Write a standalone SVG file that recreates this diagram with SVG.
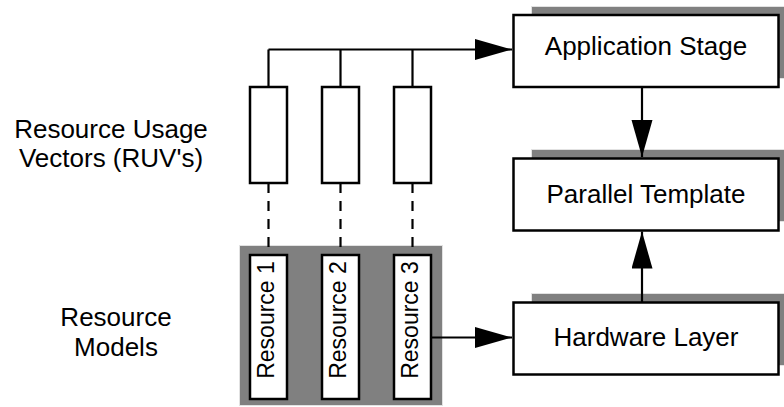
<svg xmlns="http://www.w3.org/2000/svg" width="784" height="407" viewBox="0 0 784 407">
<style>
text{font-family:"Liberation Sans",Arial,sans-serif;fill:#000}
.lbl{font-size:26px;text-anchor:middle}
.res{font-size:23px;text-anchor:middle}
.box{fill:#fff;stroke:#000;stroke-width:2.5}
.shadow{fill:#808080;stroke:#e2e2e2;stroke-width:1}
.ln{fill:none;stroke:#000;stroke-width:2.2}
.dash{fill:none;stroke:#000;stroke-width:2.2;stroke-dasharray:10 8}
</style>
<defs>
<marker id="ah" markerUnits="userSpaceOnUse" markerWidth="38" markerHeight="22" refX="37" refY="10.5" orient="auto">
<path d="M0,0 L37,10.5 L0,21 Z" fill="#000"/>
</marker>
</defs>
<rect width="784" height="407" fill="#fff"/>
<g id="label-ruv">
<text class="lbl" x="111" y="138">Resource Usage</text>
<text class="lbl" x="111" y="167">Vectors (RUV's)</text>
</g>
<g id="label-models">
<text class="lbl" x="116" y="326">Resource</text>
<text class="lbl" x="116" y="356">Models</text>
</g>
<g id="ruv-vectors">
<rect class="box" x="250" y="87" width="37" height="96" stroke-width="2.2"/>
<rect class="box" x="322" y="87" width="37" height="96" stroke-width="2.2"/>
<rect class="box" x="394" y="87" width="37" height="96" stroke-width="2.2"/>
</g>
<g id="resource-models">
<rect class="shadow" x="239.5" y="245.5" width="203" height="160"/>
<g id="resource1">
<rect class="box" x="250" y="255" width="37" height="144" stroke-width="2.2"/>
<text class="res" transform="translate(274,320) rotate(-90)">Resource 1</text>
</g>
<g id="resource2">
<rect class="box" x="322" y="255" width="37" height="144" stroke-width="2.2"/>
<text class="res" transform="translate(346,320) rotate(-90)">Resource 2</text>
</g>
<g id="resource3">
<rect class="box" x="394" y="255" width="37" height="144" stroke-width="2.2"/>
<text class="res" transform="translate(418,320) rotate(-90)">Resource 3</text>
</g>
</g>
<g id="application-stage">
<rect class="shadow" x="531.5" y="6.5" width="265" height="72"/>
<rect class="box" x="513.5" y="15" width="265" height="72"/>
<text class="lbl" x="646" y="55">Application Stage</text>
</g>
<g id="parallel-template">
<rect class="shadow" x="531.5" y="149.5" width="265" height="72"/>
<rect class="box" x="513.5" y="158.5" width="265" height="72"/>
<text class="lbl" x="646" y="203">Parallel Template</text>
</g>
<g id="hardware-layer">
<rect class="shadow" x="531.5" y="293.5" width="265" height="72"/>
<rect class="box" x="513.5" y="302.5" width="265" height="72"/>
<text class="lbl" x="646" y="346">Hardware Layer</text>
</g>
<g id="connectors">
<path class="ln" d="M268.5,87 V49.5 M340.5,87 V49.5 M412.5,87 V49.5"/>
<path class="ln" d="M268.5,49.5 H512" marker-end="url(#ah)"/>
<path class="dash" d="M268.5,183 V255 M340.5,183 V255 M412.5,183 V255"/>
<path class="ln" d="M431,337.5 H512" marker-end="url(#ah)"/>
<path class="ln" d="M642,87 V157" marker-end="url(#ah)"/>
<path class="ln" d="M642,302.5 V231.5" marker-end="url(#ah)"/>
</g>
</svg>
